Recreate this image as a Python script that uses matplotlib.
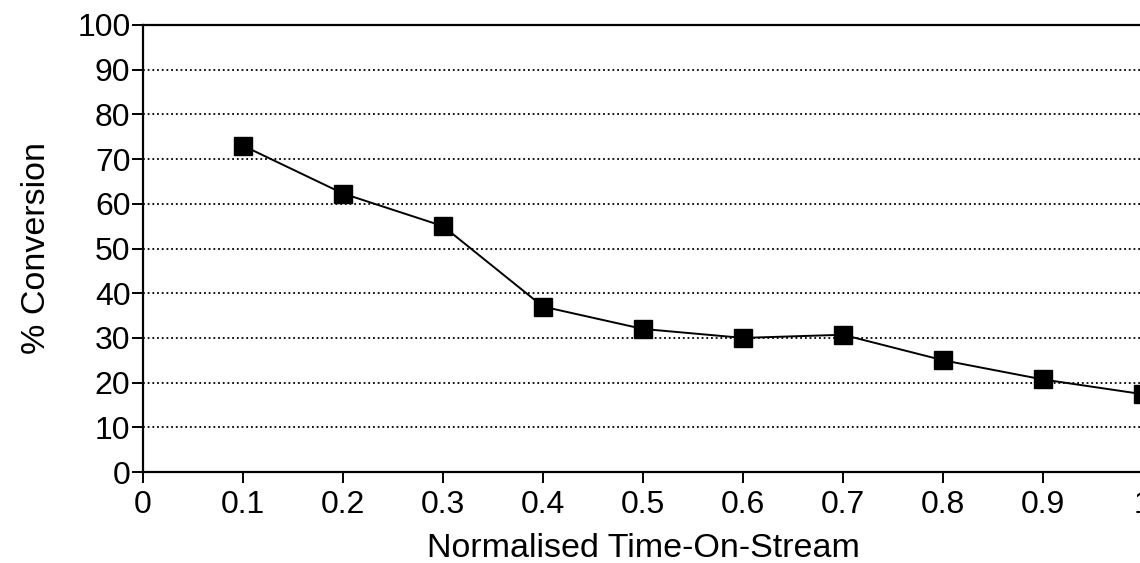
import matplotlib
matplotlib.use("Agg")
import matplotlib.pyplot as plt

plt.rcParams['font.family'] = ['Liberation Sans', 'DejaVu Sans']

time_on_stream = [0.1, 0.2, 0.3, 0.4, 0.5, 0.6, 0.7, 0.8, 0.9, 1.0]
conversion = [73.0, 62.3, 55.0, 37.0, 32.0, 30.0, 30.7, 25.0, 20.7, 17.4]
x_ticks = [0, 0.1, 0.2, 0.3, 0.4, 0.5, 0.6, 0.7, 0.8, 0.9, 1.0]
x_tick_labels = ["0", "0.1", "0.2", "0.3", "0.4", "0.5", "0.6", "0.7", "0.8", "0.9", "1"]
y_ticks = list(range(0, 101, 10))

fig = plt.figure(figsize=(11.4, 5.63), dpi=100)
ax = fig.add_axes([143 / 1140, 1 - 472 / 563, 1000 / 1140, 447 / 563])

ax.plot(time_on_stream, conversion, color="black", linewidth=1.4,
        marker="s", markersize=13.5, markerfacecolor="black",
        markeredgecolor="black", clip_on=False, zorder=3)

ax.set_xlim(0, 1)
ax.set_ylim(0, 100)
ax.set_xticks(x_ticks)
ax.set_xticklabels(x_tick_labels)
ax.set_yticks(y_ticks)

for y in y_ticks[1:-1]:
    ax.axhline(y, color="black", linewidth=1.3, linestyle=(0, (1, 1.6)), zorder=1)

for side in ["left", "bottom", "top", "right"]:
    ax.spines[side].set_linewidth(1.6)

ax.tick_params(axis="both", direction="out", length=8, width=1.4,
               labelsize=23, colors="black")
ax.tick_params(axis="y", pad=1)
ax.tick_params(axis="x", pad=5)

ax.set_xlabel("Normalised Time-On-Stream", fontsize=24.5, labelpad=9)
ax.set_ylabel("% Conversion", fontsize=24.5, labelpad=18)

fig.savefig("out.png", dpi=100)
